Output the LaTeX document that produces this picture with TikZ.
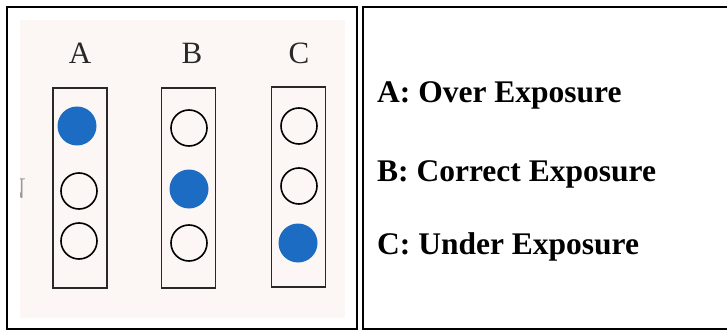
\documentclass[tikz,border=0pt]{standalone}
\usepackage{fontspec}
\setmainfont{Liberation Serif}
\definecolor{scanbg}{RGB}{252,247,244}
\definecolor{dotblue}{RGB}{28,108,196}
\definecolor{inkgray}{RGB}{40,40,40}
\begin{document}
\begin{tikzpicture}[x=1pt,y=-1pt,
  cellframe/.style={draw=black,line width=2.2pt},
  strip/.style={draw=inkgray,line width=1.6pt,minimum width=54pt,minimum height=200pt,inner sep=0pt},
  lamp/.style={circle,draw=black,line width=1.6pt,minimum size=36pt,inner sep=0pt},
  lampon/.style={circle,fill=dotblue,minimum size=39pt,inner sep=0pt},
  colhead/.style={font=\fontsize{31}{31}\selectfont,text=inkgray,inner sep=0pt},
  legend/.style={font=\fontsize{31.5}{31.5}\selectfont\bfseries,anchor=base west,inner sep=0pt}]
\useasboundingbox (0,0) rectangle (727,331);
\clip (0,0) rectangle (727,331);
% table cells
\draw[cellframe] (7,7) rectangle (357,329);
\draw[cellframe] (363,7) rectangle (740,329);
% scanned picture background
\fill[scanbg] (20,20) rectangle (345,318);
\begin{scope}
\clip (20,20) rectangle (345,318);
\node[font=\fontsize{30}{30}\selectfont,text=gray!80,inner sep=0pt] (frag) at (15,189) {N};
\end{scope}
% column headers
\node[colhead] (la) at (80,53) {A};
\node[colhead] (lb) at (192,53) {B};
\node[colhead] (lc) at (299,53) {C};
% strips
\node[strip] (sa) at (80,188) {};
\node[strip] (sb) at (188.5,188) {};
\node[strip] (sc) at (298.5,187) {};
% lamps
\node[lampon] (a1) at (77,126) {};
\node[lamp] (a2) at (79,191) {};
\node[lamp] (a3) at (79,241) {};
\node[lamp] (b1) at (189,128) {};
\node[lampon] (b2) at (189,189) {};
\node[lamp] (b3) at (189,243) {};
\node[lamp] (c1) at (299,126) {};
\node[lamp] (c2) at (299,186) {};
\node[lampon] (c3) at (298,243) {};
% legend
\node[legend] (ta) at (377,103) {A: Over Exposure};
\node[legend] (tb) at (377,182) {B: Correct Exposure};
\node[legend] (tc) at (377,254.5) {C: Under Exposure};
\end{tikzpicture}
\end{document}
